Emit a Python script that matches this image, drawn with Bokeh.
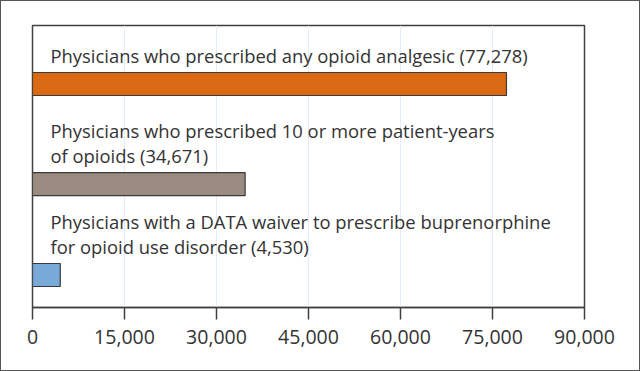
from bokeh.plotting import figure
from bokeh.models import Range1d, FixedTicker, NumeralTickFormatter, ColumnDataSource
from bokeh.core.properties import value
from bokeh.embed import file_html
from bokeh.resources import INLINE

# ---- data ----
label_lines = [
    ["Physicians who prescribed any opioid analgesic (77,278)"],
    ["Physicians who prescribed 10 or more patient-years", "of opioids (34,671)"],
    ["Physicians with a DATA waiver to prescribe buprenorphine", "for opioid use disorder (4,530)"],
]
values = [77278, 34671, 4530]
colors = ["#DA6A14", "#9C8B80", "#78A9D9"]
x_ticks = [0, 15000, 30000, 45000, 60000, 75000, 90000]

# ---- layout (vertical positions in frame pixels from top) ----
bar_centers = [58.5, 158.7, 249.5]
bar_height = 23
line_gap = 25.5
text_above_bar = 9.5

FONT = "Open Sans"

p = figure(
    frame_width=552, frame_height=282,
    min_border_left=31, min_border_right=55, min_border_top=24, min_border_bottom=63,
    x_range=Range1d(0, 90000), y_range=Range1d(282, 0),
    output_backend="svg", toolbar_location=None,
)
p.styles = {"border": "1px solid #555555"}

p.yaxis.visible = False
p.ygrid.visible = False
p.xgrid.grid_line_color = "#e2edf8"
p.xgrid.grid_line_width = 1
p.outline_line_color = "#404040"
p.outline_line_width = 1.5
p.outline_line_alpha = 1

ax = p.xaxis[0]
ax.ticker = FixedTicker(ticks=x_ticks)
ax.formatter = NumeralTickFormatter(format="0,0")
ax.major_tick_in = 0
ax.major_tick_out = 12
ax.minor_tick_line_color = None
ax.axis_line_color = "#404040"
ax.axis_line_width = 1.5
ax.major_tick_line_color = "#404040"
ax.major_tick_line_width = 1.5
ax.major_label_text_font = FONT
ax.major_label_text_font_size = "19.5px"
ax.major_label_text_color = "#333333"
ax.major_label_standoff = 10

src = ColumnDataSource(dict(y=bar_centers, right=values, color=colors))
p.hbar(y="y", left=0, right="right", height=bar_height, fill_color="color",
       line_color="#3a3a3a", line_width=1.2, source=src)

tx, ty, tt = [], [], []
for lines, c in zip(label_lines, bar_centers):
    base = c - bar_height / 2 - text_above_bar
    n = len(lines)
    for i, ln in enumerate(lines):
        tx.append(0)
        ty.append(base - (n - 1 - i) * line_gap)
        tt.append(ln)

p.text(x=tx, y=ty, text=tt, x_offset=18, y_offset=-7.5, text_font=value(FONT),
       text_font_size="18.4px", text_color="#333333", text_baseline="alphabetic",
       text_align="left")

open("out.html", "w").write(file_html(p, INLINE))
